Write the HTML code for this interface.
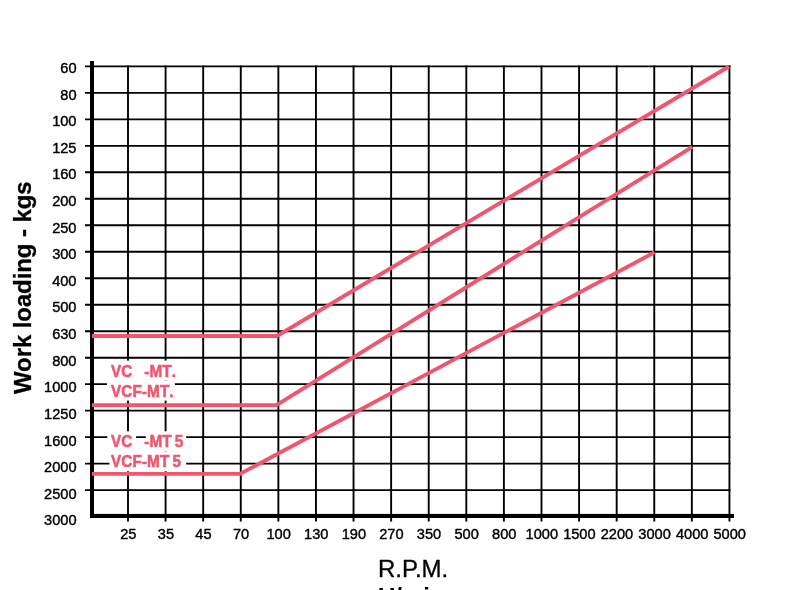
<!DOCTYPE html>
<html><head><meta charset="utf-8"><title>Work loading chart</title>
<style>
html,body{margin:0;padding:0;background:#fff;}
body{width:800px;height:590px;overflow:hidden;position:relative;}
svg{position:absolute;left:0;top:0;display:block;}
text{font-family:"Liberation Sans",Arial,Helvetica,sans-serif;}
.yl{font-size:14.6px;text-anchor:end;fill:#000;stroke:#000;stroke-width:0.4px;}
.xl{font-size:14.6px;text-anchor:middle;fill:#000;stroke:#000;stroke-width:0.4px;}
.pk{font-kerning:none;font-size:15.3px;letter-spacing:0.1px;word-spacing:-1.3px;font-weight:bold;fill:#F0576F;stroke:#F0576F;stroke-width:0.55px;}
</style></head><body>
<svg width="800" height="590" viewBox="0 0 800 590">
<rect x="0" y="0" width="800" height="590" fill="#fff"/>

<g stroke="#000" stroke-width="1.9" fill="none" shape-rendering="auto">
<line x1="85" y1="66.40" x2="730.4" y2="66.40"/>
<line x1="85" y1="92.88" x2="730.4" y2="92.88"/>
<line x1="85" y1="119.36" x2="730.4" y2="119.36"/>
<line x1="85" y1="145.84" x2="730.4" y2="145.84"/>
<line x1="85" y1="172.32" x2="730.4" y2="172.32"/>
<line x1="85" y1="198.80" x2="730.4" y2="198.80"/>
<line x1="85" y1="225.28" x2="730.4" y2="225.28"/>
<line x1="85" y1="251.76" x2="730.4" y2="251.76"/>
<line x1="85" y1="278.24" x2="730.4" y2="278.24"/>
<line x1="85" y1="304.72" x2="730.4" y2="304.72"/>
<line x1="85" y1="331.20" x2="730.4" y2="331.20"/>
<line x1="85" y1="357.68" x2="730.4" y2="357.68"/>
<line x1="85" y1="384.16" x2="730.4" y2="384.16"/>
<line x1="85" y1="410.64" x2="730.4" y2="410.64"/>
<line x1="85" y1="437.12" x2="730.4" y2="437.12"/>
<line x1="85" y1="463.60" x2="730.4" y2="463.60"/>
<line x1="85" y1="490.08" x2="730.4" y2="490.08"/>
<line x1="128.00" y1="65.4" x2="128.00" y2="521.5"/>
<line x1="165.59" y1="65.4" x2="165.59" y2="521.5"/>
<line x1="203.18" y1="65.4" x2="203.18" y2="521.5"/>
<line x1="240.77" y1="65.4" x2="240.77" y2="521.5"/>
<line x1="278.36" y1="65.4" x2="278.36" y2="521.5"/>
<line x1="315.95" y1="65.4" x2="315.95" y2="521.5"/>
<line x1="353.54" y1="65.4" x2="353.54" y2="521.5"/>
<line x1="391.13" y1="65.4" x2="391.13" y2="521.5"/>
<line x1="428.72" y1="65.4" x2="428.72" y2="521.5"/>
<line x1="466.31" y1="65.4" x2="466.31" y2="521.5"/>
<line x1="503.90" y1="65.4" x2="503.90" y2="521.5"/>
<line x1="541.49" y1="65.4" x2="541.49" y2="521.5"/>
<line x1="579.08" y1="65.4" x2="579.08" y2="521.5"/>
<line x1="616.67" y1="65.4" x2="616.67" y2="521.5"/>
<line x1="654.26" y1="65.4" x2="654.26" y2="521.5"/>
<line x1="691.85" y1="65.4" x2="691.85" y2="521.5"/>
<line x1="729.44" y1="65.4" x2="729.44" y2="521.5"/>
</g>
<rect x="90" y="61" width="4" height="456.8" fill="#000"/>
<rect x="90" y="513.9" width="644" height="4.1" fill="#000"/>
<g fill="#fff">
<rect x="106.9" y="360.6" width="68.1" height="40"/>
<rect x="107.3" y="431.3" width="28.8" height="21"/>
<rect x="145.8" y="431.3" width="40.4" height="21"/>
<rect x="109.4" y="451.3" width="76.8" height="20"/>
<rect x="164.6" y="380.1" width="2" height="0.7" fill="#888"/>
<rect x="164.6" y="451" width="2" height="0.7" fill="#888"/>
</g>
<g stroke="#F0576F" stroke-width="3.9" fill="none" stroke-linejoin="miter">
<polyline points="92,336 277,336 729,66.5"/>
<polyline points="92,405.1 276.5,405.1 692.3,146.9"/>
<polyline points="92,473.9 240.1,473.9 654.6,252.3"/>
</g>
<text class="yl" x="76.5" y="72.90">60</text>
<text class="yl" x="76.5" y="99.52">80</text>
<text class="yl" x="76.5" y="126.14">100</text>
<text class="yl" x="76.5" y="152.76">125</text>
<text class="yl" x="76.5" y="179.38">160</text>
<text class="yl" x="76.5" y="206.00">200</text>
<text class="yl" x="76.5" y="232.62">250</text>
<text class="yl" x="76.5" y="259.24">300</text>
<text class="yl" x="76.5" y="285.86">400</text>
<text class="yl" x="76.5" y="312.48">500</text>
<text class="yl" x="76.5" y="339.10">630</text>
<text class="yl" x="76.5" y="365.72">800</text>
<text class="yl" x="76.5" y="392.34">1000</text>
<text class="yl" x="76.5" y="418.96">1250</text>
<text class="yl" x="76.5" y="445.58">1600</text>
<text class="yl" x="76.5" y="472.20">2000</text>
<text class="yl" x="76.5" y="498.82">2500</text>
<text class="yl" x="76.5" y="525.44">3000</text>
<text class="xl" x="128.30" y="539">25</text>
<text class="xl" x="165.89" y="539">35</text>
<text class="xl" x="203.48" y="539">45</text>
<text class="xl" x="241.07" y="539">70</text>
<text class="xl" x="278.66" y="539">100</text>
<text class="xl" x="316.25" y="539">130</text>
<text class="xl" x="353.84" y="539">190</text>
<text class="xl" x="391.43" y="539">270</text>
<text class="xl" x="429.02" y="539">350</text>
<text class="xl" x="466.61" y="539">500</text>
<text class="xl" x="504.20" y="539">800</text>
<text class="xl" x="541.79" y="539">1000</text>
<text class="xl" x="579.38" y="539">1500</text>
<text class="xl" x="616.97" y="539">2200</text>
<text class="xl" x="654.56" y="539">3000</text>
<text class="xl" x="692.15" y="539">4000</text>
<text class="xl" x="729.74" y="539">5000</text>
<text class="pk" transform="translate(111.00,376.60) scale(1,1.05)">VC</text>
<text class="pk" transform="translate(144.20,376.60) scale(1,1.05)">-MT.</text>
<text class="pk" transform="translate(111.00,396.60) scale(1,1.05)">VCF-MT.</text>
<text class="pk" transform="translate(111.00,446.90) scale(1,1.05)">VC</text>
<text class="pk" transform="translate(144.20,446.90) scale(1,1.05)">-MT 5</text>
<text class="pk" transform="translate(111.00,466.90) scale(1,1.05)">VCF-MT 5</text>
<text x="0" y="0" transform="translate(31,394) rotate(-90)" style="font-size:24px;letter-spacing:-0.1px;font-weight:bold;fill:#000;stroke:#000;stroke-width:0.3px">Work loading - kgs</text>
<text x="378" y="576.8" style="font-size:24px;fill:#000;stroke:#000;stroke-width:0.3px">R.P.M.</text>
<text x="378" y="605.4" style="font-size:24px;font-weight:bold;fill:#000">U/min</text>
</svg></body></html>
